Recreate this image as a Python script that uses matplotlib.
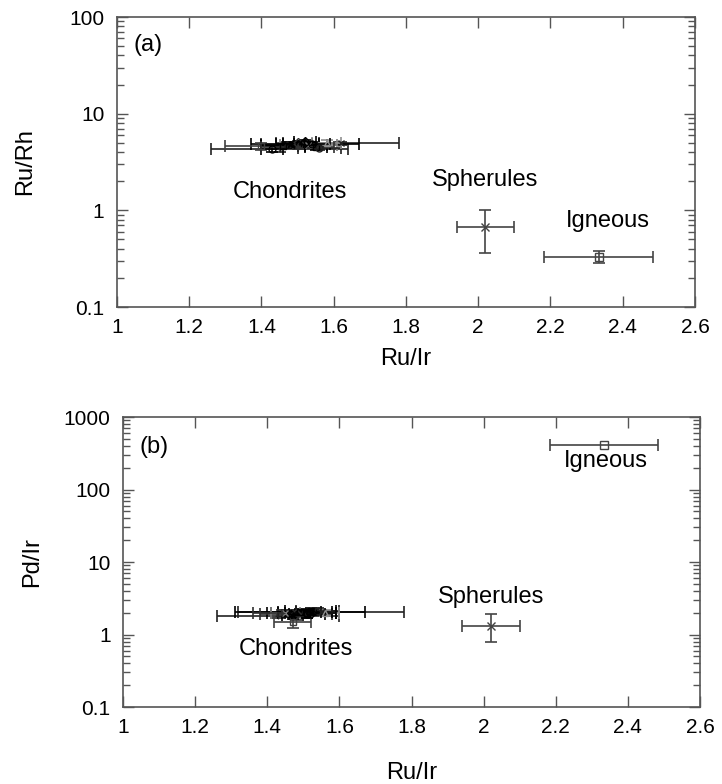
# =========================================================
# File: plot.py
# Ru/Rh and Pd/Ir versus Ru/Ir (two panels)
# =========================================================

import matplotlib
matplotlib.use("Agg")
import matplotlib.pyplot as plt
from matplotlib.ticker import FixedLocator, FixedFormatter, LogLocator, NullFormatter

plt.rcParams["font.family"] = ["Liberation Sans", "DejaVu Sans"]


# =========================================================
# Data
# =========================================================

# Chondrites, panel (a): Ru/Ir, Ru/Rh, errors
chon_a_x = [1.45, 1.62, 1.52, 1.40, 1.43, 1.47, 1.49, 1.50, 1.51, 1.53, 1.55, 1.56, 1.48, 1.58,
            1.46, 1.54, 1.50, 1.52]
chon_a_y = [4.35, 4.95, 4.90, 4.60, 4.30, 4.80, 4.70, 5.00, 4.90, 4.70, 4.50, 4.40, 4.80, 5.00,
            4.65, 4.85, 4.55, 5.10]
chon_a_xerr = [0.19, 0.16, 0.15, 0.10, 0.03, 0.07, 0.09, 0.06, 0.05, 0.08, 0.03, 0.06, 0.04, 0.04,
               0.06, 0.05, 0.10, 0.03]
chon_a_yerr = [0.30, 0.20, 0.20, 0.40, 0.30, 0.35, 0.30, 0.25, 0.30, 0.30, 0.25, 0.20, 0.30, 0.30,
               0.20, 0.20, 0.25, 0.20]

# Chondrites, panel (b): Ru/Ir, Pd/Ir, errors
chon_b_x = [1.43, 1.55, 1.49, 1.47, 1.46, 1.50, 1.52, 1.48, 1.53, 1.45, 1.51, 1.54, 1.47, 1.56,
            1.49, 1.51, 1.44, 1.52]
chon_b_y = [1.82, 2.06, 2.05, 1.50, 1.95, 2.00, 2.10, 1.90, 2.05, 2.00, 1.95, 2.10, 1.85, 2.00,
            2.05, 1.90, 2.00, 2.00]
chon_b_xerr = [0.17, 0.23, 0.18, 0.05, 0.06, 0.09, 0.07, 0.10, 0.05, 0.04, 0.08, 0.06, 0.03, 0.04,
               0.06, 0.05, 0.08, 0.07]
chon_b_yerr = [0.15, 0.15, 0.20, 0.27, 0.20, 0.25, 0.20, 0.30, 0.20, 0.15, 0.25, 0.20, 0.20, 0.20,
               0.15, 0.20, 0.15, 0.15]

chon_markers = ["+", "x", "*", "s", "o", "^", "v", "D", "+", "x", "s", "o", "*", "^",
                "s", "o", "+", "D"]
chon_colors = ["#222222", "#222222", "#000000", "#404040", "#000000", "#202020", "#000000",
               "#303030", "#000000", "#808080", "#000000", "#202020", "#000000", "#909090",
               "#000000", "#000000", "#303030", "#000000"]

# Spherules
sph_x = 2.02
sph_xerr = 0.08
sph_a_y = 0.68
sph_a_yerr = [[0.32], [0.32]]
sph_b_y = 1.31
sph_b_yerr = [[0.53], [0.59]]

# Igneous
ign_x = 2.333
ign_xerr = 0.15
ign_a_y = 0.33
ign_a_yerr = [[0.045], [0.05]]
ign_b_y = 415.0

# Axis ticks
x_ticks = [1.0, 1.2, 1.4, 1.6, 1.8, 2.0, 2.2, 2.4, 2.6]
x_tick_labels = ["1", "1.2", "1.4", "1.6", "1.8", "2", "2.2", "2.4", "2.6"]
ya_ticks = [0.1, 1, 10, 100]
ya_tick_labels = ["0.1", "1", "10", "100"]
yb_ticks = [0.1, 1, 10, 100, 1000]
yb_tick_labels = ["0.1", "1", "10", "100", "1000"]


# =========================================================
# Figure
# =========================================================

fig = plt.figure(figsize=(7.22, 7.84), dpi=100)

ax_a = fig.add_axes([0.162, 0.6084, 0.8006, 0.3699])
ax_b = fig.add_axes([0.1704, 0.0982, 0.7991, 0.3699])

FS_TICK = 15
FS_TEXT = 17
err_kw = dict(linestyle="none", elinewidth=1.2, capsize=4, capthick=1.2)


def style_axes(ax, yticks, ylabels, ymin, ymax, ylabel, xpad, ypad):

    ax.set_yscale("log")
    ax.set_xlim(1.0, 2.6)
    ax.set_ylim(ymin, ymax)

    ax.xaxis.set_major_locator(FixedLocator(x_ticks))
    ax.xaxis.set_major_formatter(FixedFormatter(x_tick_labels))

    ax.yaxis.set_major_locator(FixedLocator(yticks))
    ax.yaxis.set_major_formatter(FixedFormatter(ylabels))
    ax.yaxis.set_minor_locator(LogLocator(base=10, subs=range(2, 10)))
    ax.yaxis.set_minor_formatter(NullFormatter())

    ax.tick_params(which="both", direction="in", top=True, right=True,
                   color="#555555", labelsize=FS_TICK, width=1.0)
    ax.tick_params(which="major", length=8)
    ax.tick_params(which="minor", length=5)
    ax.tick_params(axis="x", pad=8)
    ax.tick_params(axis="y", pad=9)

    for spine in ax.spines.values():
        spine.set_color("#555555")
        spine.set_linewidth(1.2)

    ax.set_xlabel("Ru/Ir", fontsize=FS_TEXT, labelpad=xpad)
    ax.set_ylabel(ylabel, fontsize=FS_TEXT, labelpad=ypad)


def draw_chondrites(ax, xs, ys, xerrs, yerrs):

    for i in range(len(xs)):

        ax.errorbar(xs[i], ys[i], xerr=xerrs[i], yerr=yerrs[i],
                    marker=chon_markers[i], markersize=5, color=chon_colors[i],
                    mfc="none" if chon_markers[i] in "so^vD" else chon_colors[i],
                    **err_kw)


# =========================================================
# Panel (a)
# =========================================================

draw_chondrites(ax_a, chon_a_x, chon_a_y, chon_a_xerr, chon_a_yerr)

ax_a.errorbar(sph_x, sph_a_y, xerr=sph_xerr, yerr=sph_a_yerr, marker="x",
              markersize=6, color="#444444", ecolor="#444444", **err_kw)
ax_a.errorbar(ign_x, ign_a_y, xerr=ign_xerr, yerr=ign_a_yerr, marker="s",
              markersize=6, mfc="none", color="#444444", **err_kw)

ax_a.text(1.045, 51, "(a)", fontsize=FS_TEXT, va="center", ha="left")
ax_a.text(1.48, 1.55, "Chondrites", fontsize=FS_TEXT, va="center", ha="center")
ax_a.text(2.02, 2.06, "Spherules", fontsize=FS_TEXT, va="center", ha="center")
ax_a.text(2.36, 0.78, "Igneous", fontsize=FS_TEXT, va="center", ha="center")

style_axes(ax_a, ya_ticks, ya_tick_labels, 0.1, 100, "Ru/Rh", 8, 24)


# =========================================================
# Panel (b)
# =========================================================

draw_chondrites(ax_b, chon_b_x, chon_b_y, chon_b_xerr, chon_b_yerr)

ax_b.errorbar(sph_x, sph_b_y, xerr=sph_xerr, yerr=sph_b_yerr, marker="x",
              markersize=6, color="#444444", ecolor="#444444", **err_kw)
ax_b.errorbar(ign_x, ign_b_y, xerr=ign_xerr, marker="s",
              markersize=6, mfc="none", color="#444444", **err_kw)

ax_b.text(1.045, 385, "(b)", fontsize=FS_TEXT, va="center", ha="left")
ax_b.text(1.48, 0.63, "Chondrites", fontsize=FS_TEXT, va="center", ha="center")
ax_b.text(2.02, 3.3, "Spherules", fontsize=FS_TEXT, va="center", ha="center")
ax_b.text(2.34, 247, "Igneous", fontsize=FS_TEXT, va="center", ha="center")

style_axes(ax_b, yb_ticks, yb_tick_labels, 0.1, 1000, "Pd/Ir", 18, 15)


# =========================================================
# Save
# =========================================================

fig.savefig("out.png", dpi=100)
print("Saved out.png")
